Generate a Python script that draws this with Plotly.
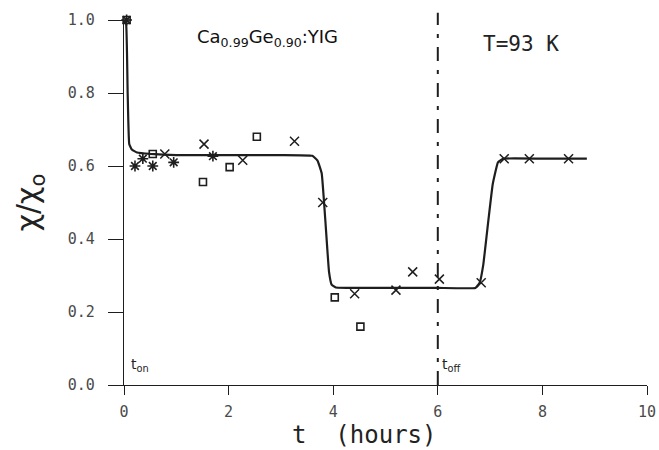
import plotly.graph_objects as go

# Fitted curve
curve_t = [0.0, 0.04, 0.07, 0.10, 0.15, 0.25, 0.5, 1.0, 2.0, 3.0, 3.6, 3.7, 3.78, 3.85, 3.92, 3.97, 4.05, 5.0, 6.0, 6.72, 6.8, 6.87, 6.95, 7.05, 7.15, 7.25, 8.0, 8.85]
curve_chi = [1.0, 0.99, 0.80, 0.66, 0.645, 0.637, 0.633, 0.63, 0.63, 0.63, 0.628, 0.615, 0.58, 0.45, 0.31, 0.275, 0.267, 0.266, 0.266, 0.266, 0.28, 0.33, 0.43, 0.55, 0.61, 0.62, 0.62, 0.62]

# Measured data sets
ast_t = [0.05, 0.21, 0.36, 0.55, 0.95, 1.70]
ast_chi = [1.0, 0.60, 0.62, 0.60, 0.61, 0.627]

sq_t = [0.05, 0.55, 1.51, 2.02, 2.54, 4.03, 4.52]
sq_chi = [1.0, 0.633, 0.556, 0.597, 0.68, 0.24, 0.16]

x_t = [0.78, 1.53, 2.27, 3.26, 3.80, 4.41, 5.20, 5.52, 6.03, 6.83, 7.27, 7.75, 8.50]
x_chi = [0.633, 0.66, 0.616, 0.668, 0.50, 0.25, 0.26, 0.31, 0.29, 0.28, 0.62, 0.62, 0.62]

t_off = 6.0
x_ticks = [0, 2, 4, 6, 8, 10]
y_ticks = [0.0, 0.2, 0.4, 0.6, 0.8, 1.0]

ink = "#1e1e1e"
mono = "DejaVu Sans Mono"
tickfont = dict(family=mono, size=15, color="#4a4a4a")

fig = go.Figure()
fig.add_trace(go.Scatter(x=curve_t, y=curve_chi, mode="lines",
                         line=dict(color=ink, width=2.2, shape="spline", smoothing=0.3),
                         cliponaxis=False, showlegend=False))
fig.add_trace(go.Scatter(x=ast_t, y=ast_chi, mode="markers",
                         marker=dict(symbol="asterisk-open", size=9, color=ink, line=dict(color=ink, width=1.6)),
                         cliponaxis=False, showlegend=False))
fig.add_trace(go.Scatter(x=sq_t, y=sq_chi, mode="markers",
                         marker=dict(symbol="square-open", size=7, color=ink, line=dict(color=ink, width=1.6)),
                         cliponaxis=False, showlegend=False))
fig.add_trace(go.Scatter(x=x_t, y=x_chi, mode="markers",
                         marker=dict(symbol="x-thin-open", size=9, color=ink, line=dict(color=ink, width=1.5)),
                         cliponaxis=False, showlegend=False))

fig.add_shape(type="line", xref="x", yref="paper", x0=t_off, x1=t_off, y0=0, y1=1.02,
              line=dict(color=ink, width=2, dash="14px,9px,4px,9px"))

fig.update_xaxes(range=[0, 10], tickvals=x_ticks, ticktext=[str(v) for v in x_ticks],
                 showline=True, linecolor=ink, linewidth=1.3, ticks="outside", ticklen=9,
                 tickcolor=ink, tickwidth=1.3, showgrid=False, zeroline=False,
                 tickfont=tickfont, ticklabelstandoff=4, automargin=False)
fig.update_yaxes(range=[0, 1.0], tickvals=y_ticks, ticktext=[f"{v:.1f}" for v in y_ticks],
                 showline=True, linecolor=ink, linewidth=1.3, ticks="outside", ticklen=15,
                 tickcolor=ink, tickwidth=1.3, showgrid=False, zeroline=False,
                 tickfont=tickfont, ticklabelstandoff=10, automargin=False)

ann = [
    dict(x=2.75, y=0.95, xref="x", yref="y", text="Ca<sub>0.99</sub>Ge<sub>0.90</sub>:YIG",
         font=dict(family="DejaVu Sans", size=18, color="#111"), showarrow=False),
    dict(x=7.6, y=0.935, xref="x", yref="y", text="T=93 K",
         font=dict(family=mono, size=21, color="#222"), showarrow=False),
    dict(x=0.1, y=0.055, xref="x", yref="y", text="t<sub>on</sub>", xanchor="left",
         font=dict(family="DejaVu Sans", size=14, color="#222"), showarrow=False),
    dict(x=6.05, y=0.055, xref="x", yref="y", text="t<sub>off</sub>", xanchor="left",
         font=dict(family="DejaVu Sans", size=14, color="#222"), showarrow=False),
    dict(x=4.6, y=-0.137, xref="x", yref="paper", text="t  (hours)", yanchor="middle",
         xanchor="center", font=dict(family=mono, size=24, color="#222"), showarrow=False),
    dict(x=-0.18, y=0.5, xref="paper", yref="paper", text="χ/χ<sub>o</sub>", textangle=-90,
         xanchor="center", yanchor="middle",
         font=dict(family="DejaVu Sans", size=30, color="#222"), showarrow=False),
]
fig.update_layout(annotations=ann, width=659, height=450,
                  margin=dict(l=124, r=12, t=20, b=65),
                  paper_bgcolor="white", plot_bgcolor="white", showlegend=False)

fig.write_html("out.html", config={"displayModeBar": False},
               post_script="document.body.style.margin='0';document.body.style.overflow='hidden';")
